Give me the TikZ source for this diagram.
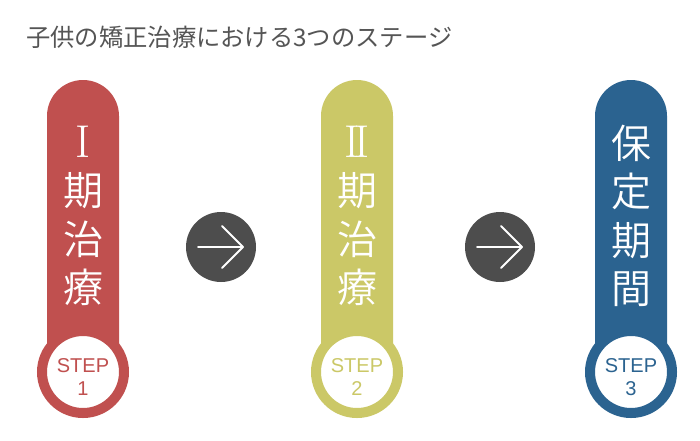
\documentclass[tikz,border=0pt]{standalone}
\usepackage{fontspec}
\IfFontExistsTF{Noto Sans CJK JP DemiLight}
  {\newfontfamily\jp{Noto Sans CJK JP DemiLight}}
  {\IfFontExistsTF{Noto Sans CJK JP Light}
    {\newfontfamily\jp{Noto Sans CJK JP Light}}
    {\newfontfamily\jp{Noto Sans CJK JP}}}
\newfontfamily\jpt{Noto Sans CJK JP}
\newfontfamily\stepfont{Liberation Sans}
\newfontfamily\romfont{Latin Modern Roman}
\definecolor{cred}{HTML}{C0504F}
\definecolor{cyel}{HTML}{CBC867}
\definecolor{cblue}{HTML}{2B6390}
\definecolor{cgray}{HTML}{4D4D4D}
\definecolor{ctitle}{HTML}{555555}
\newcommand\romI{{\romfont\fontsize{46}{48.3}\selectfont I}}
\newcommand\romII{{\romfont\fontsize{46}{48.3}\selectfont I\kern-4.2pt I}}
\tikzset{
  pillartext/.style={text=white, font=\jp\fontsize{40}{48.3}\selectfont, align=center, inner sep=0pt},
  ring/.style={circle, fill=white, draw=#1, line width=10pt, minimum size=82pt, inner sep=0pt},
  steplabel/.style={text=#1, font=\stepfont\fontsize{20}{23.5}\selectfont, align=center, inner sep=0pt},
  arrowdisc/.style={circle, fill=cgray, minimum size=70pt, inner sep=0pt},
  arrowline/.style={draw=white, line width=1.8pt, line cap=round, line join=round}
}
\begin{document}
\begin{tikzpicture}[x=1pt,y=-1pt]
\useasboundingbox (0,0) rectangle (700,440);
\fill[white] (0,0) rectangle (700,440);
% title
\node[anchor=west, inner sep=0pt, text=ctitle, font=\jpt\fontsize{24.3}{28}\selectfont] (title) at (26,37) {子供の矯正治療における3つのステージ};
% pillars
\foreach \cx/\col in {83/cred, 357/cyel, 631/cblue}{
  \fill[\col] (\cx-36,372) -- (\cx-36,116) arc (180:360:36) -- (\cx+36,372) -- cycle;
}
\node[ring=cred] (r1) at (83,372) {};
\node[ring=cyel] (r2) at (357,372) {};
\node[ring=cblue] (r3) at (631,372) {};
\node[steplabel=cred] (s1) at (83,377) {STEP\\1};
\node[steplabel=cyel] (s2) at (357,377) {STEP\\2};
\node[steplabel=cblue] (s3) at (631,377) {STEP\\3};
\node[pillartext] (t1) at (83,216) {\romI\\期\\治\\療};
\node[pillartext] (t2) at (357,216) {\romII\\期\\治\\療};
\node[pillartext] (t3) at (631,216) {保\\定\\期\\間};
% arrows
\node[arrowdisc] (a1) at (221,247) {};
\node[arrowdisc] (a2) at (500,247) {};
\foreach \a in {a1,a2}{
  \draw[arrowline] ([xshift=-23pt]\a.center) -- ([xshift=22pt]\a.center);
  \draw[arrowline] ([xshift=1pt,yshift=21pt]\a.center) -- ([xshift=22pt]\a.center) -- ([xshift=1pt,yshift=-21pt]\a.center);
}
\end{tikzpicture}
\end{document}
